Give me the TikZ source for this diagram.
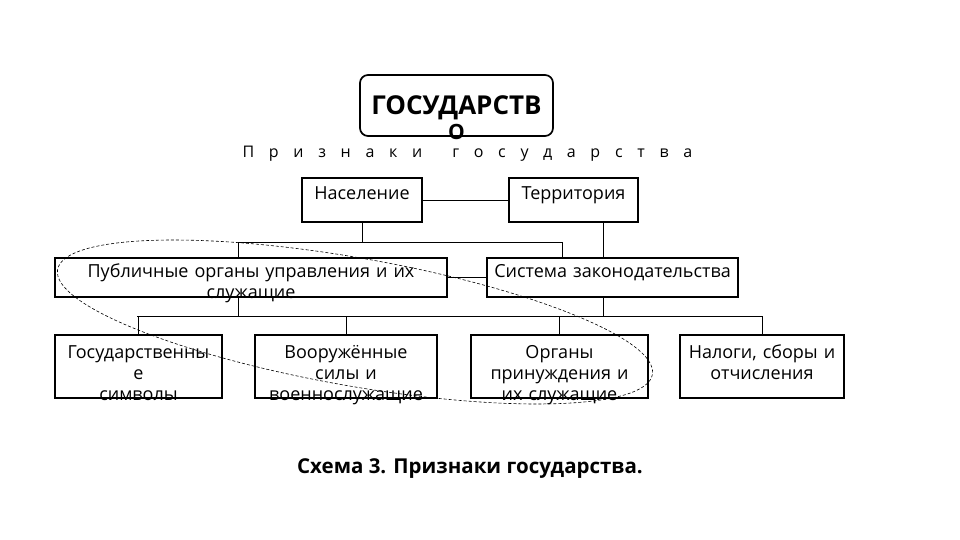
\documentclass[tikz,border=0pt]{standalone}
\usepackage{fontspec}
\setmainfont{Open Sans}
\usetikzlibrary{calc}

\tikzset{
    box/.style={draw, line width=1.7pt, inner sep=0pt, align=center,
        font=\fontsize{18}{21}\selectfont},
    boxsize/.style n args={3}{text width=#1, text height=#2, text depth=#3},
    link/.style={line width=0.8pt},
}

\begin{document}
\begin{tikzpicture}[x=1pt, y=-1pt]
    \useasboundingbox (0,0) rectangle (960,540);
    % Заголовок
    \node[box, rounded corners=8pt, boxsize={193pt}{40pt}{21pt}] (gos) at (456.5,105.5)
        {\bfseries\fontsize{26}{26}\selectfont ГОСУДАРСТВ\\[4pt]\fontsize{21}{26}\selectfont О};
    \node[anchor=base west, font=\fontsize{16}{20}\selectfont\addfontfeature{LetterSpace=92}] (sign) at (239,158)
        {Признаки\hspace*{30pt}государства};
    % Первый ряд
    \node[box, boxsize={120pt}{22pt}{22pt}] (nas) at (362,200) {Население};
    \node[box, boxsize={129pt}{22pt}{22pt}] (ter) at (573.5,200) {Территория};
    % Второй ряд
    \node[box, boxsize={392pt}{19pt}{20pt}] (pub) at (251,277.5)
        {Публичные органы управления и их\\служащие};
    \node[box, boxsize={251pt}{19pt}{20pt}] (sis) at (612.5,277.5) {Система законодательства};
    % Третий ряд
    \node[box, boxsize={167pt}{23pt}{40pt}] (sym) at (138.5,366.5) {Государственны\\е\\символы};
    \node[box, boxsize={182pt}{23pt}{40pt}] (arm) at (346,366.5) {Вооружённые\\силы и\\военнослужащие};
    \node[box, boxsize={177pt}{23pt}{40pt}] (org) at (559.5,366.5) {Органы\\принуждения и\\их служащие};
    \node[box, boxsize={164pt}{23pt}{40pt}] (nal) at (762,366.5) {Налоги, сборы и\\отчисления};
    % Подпись
    \node[anchor=base, font=\bfseries\fontsize{20.5}{24}\selectfont] (cap) at (470,473)
        {Схема 3. Признаки государства.};
    % Связи
    \coordinate (b1l) at (238,242);
    \coordinate (b1r) at (562,242);
    \coordinate (tx) at (603,0);
    \coordinate (b2l) at (137,316);
    \coordinate (b2r) at (762,316);
    \draw[link] (nas) -- (ter);
    \draw[link] (nas.south) -- (nas.south |- b1l);
    \draw[link] (b1l |- pub.north) -- (b1l) -- (b1r) -- (b1r |- sis.north);
    \draw[link] (ter.south -| tx) -- (sis.north -| tx);
    \draw[link] (pub) -- (sis);
    \draw[link] (b1l |- pub.south) -- (b1l |- b2l);
    \draw[link] (sis.south -| tx) -- (tx |- b2l);
    \draw[link] (b2l) -- (b2r);
    \foreach \n in {sym, arm, org, nal}
        \draw[link] (\n.north) -- (\n.north |- b2l);
    % Пунктирный овал
    \draw[dash pattern=on 3pt off 2pt, line width=0.6pt] (355,322)
        ellipse [x radius=302, y radius=64, rotate=-10];
\end{tikzpicture}
\end{document}
